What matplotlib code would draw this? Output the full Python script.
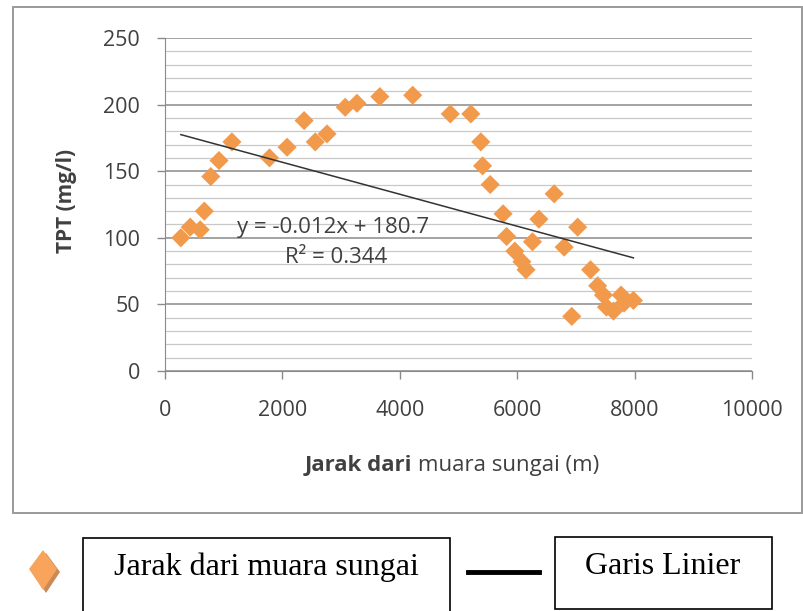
import matplotlib
matplotlib.use("Agg")
import matplotlib.pyplot as plt
from matplotlib.ticker import MultipleLocator
from matplotlib.patches import Rectangle, Polygon
from matplotlib.lines import Line2D

# TPT sampling points along the river
jarak = [270, 430, 600, 670, 780, 920, 1140, 1780, 2080, 2370, 2560, 2760,
         3070, 3270, 3660, 4220, 4860, 5210, 5380, 5410, 5540, 5760, 5820,
         5960, 6080, 6150, 6260, 6370, 6630, 6800, 6930, 7030, 7250, 7370,
         7470, 7520, 7640, 7770, 7820, 7980]
tpt = [100, 108, 106, 120, 146, 158, 172, 160, 168, 188, 172, 178,
       198, 201, 206, 207, 193, 193, 172, 154, 140, 118, 101,
       90, 82, 76, 97, 114, 133, 93, 41, 108, 76, 64,
       57, 48, 45, 57, 51, 53]

# linear trend as reported on the chart
slope = -0.012
intercept = 180.7
r_squared = 0.344

W, H = 804, 611
fig = plt.figure(figsize=(W / 100, H / 100), dpi=100)


def fx(px):
    return px / W


def fy(py):
    return 1 - py / H


ax = fig.add_axes([fx(165), fy(371), (752 - 165) / W, (371 - 38) / H])
ax.set_xlim(0, 10000)
ax.set_ylim(0, 250)
ax.xaxis.set_major_locator(MultipleLocator(2000))
ax.yaxis.set_major_locator(MultipleLocator(50))
ax.yaxis.set_minor_locator(MultipleLocator(10))
ax.grid(which="major", axis="y", color="#8a8a8a", lw=1.1)
ax.grid(which="minor", axis="y", color="#c8c8c8", lw=0.9)
ax.set_axisbelow(True)
for s in ["top", "right"]:
    ax.spines[s].set_visible(False)
ax.spines["left"].set_color("#8a8a8a")
ax.spines["bottom"].set_color("#8a8a8a")
ax.tick_params(which="major", length=6, width=1, color="#8a8a8a",
               labelsize=15.5, labelcolor="#404040")
ax.tick_params(axis="y", pad=12)
ax.tick_params(axis="x", pad=15)
ax.tick_params(which="minor", length=0)
for lab in ax.get_xticklabels() + ax.get_yticklabels():
    lab.set_fontfamily("Open Sans")

ax.scatter(jarak, tpt, marker="D", s=95, color="#f29a4c",
           edgecolors="none", zorder=3)

xs = [min(jarak), max(jarak)]
ax.plot(xs, [intercept + slope * x for x in xs], color="#333333", lw=1.1,
        zorder=4)

eq = "y = %.3fx + %.1f" % (slope, intercept)
ax.text(0.123, 0.43, eq, transform=ax.transAxes, fontsize=16,
        color="#404040", family="Open Sans", va="center")
ax.text(0.205, 0.34, "R² = %.3f" % r_squared, transform=ax.transAxes,
        fontsize=16, color="#404040", family="Open Sans", va="center")

# axis titles
fig.text(fx(67), fy(201), "TPT (mg/l)", rotation=90, ha="center",
         va="center", fontsize=15, fontweight="bold", color="#404040",
         family="Open Sans")
t1 = fig.text(fx(305), fy(466), "Jarak dari ", fontsize=16,
              fontweight="bold", color="#404040", family="Open Sans",
              va="center")
fig.canvas.draw()
bb = t1.get_window_extent()
fig.text(bb.x1 / W, fy(466), "muara sungai (m)", fontsize=16,
         color="#404040", family="Open Sans", va="center")

# chart frame
fig.add_artist(Rectangle((fx(13), fy(513)), (802 - 13) / W, (513 - 7) / H,
                         transform=fig.transFigure, fill=False,
                         edgecolor="#9a9a9a", lw=1.4))

# legend below the chart
shadow = Polygon([(fx(46), fy(553)), (fx(60), fy(572)), (fx(46), fy(593)),
                  (fx(32), fy(572))], closed=True, transform=fig.transFigure,
                 facecolor="#c98a55", edgecolor="none")
diamond = Polygon([(fx(43), fy(550)), (fx(57), fy(569)), (fx(43), fy(590)),
                   (fx(29), fy(569))], closed=True, transform=fig.transFigure,
                  facecolor="#f8a45c", edgecolor="none")
fig.add_artist(shadow)
fig.add_artist(diamond)

fig.add_artist(Rectangle((fx(83), fy(620)), (450 - 83) / W, (620 - 538) / H,
                         transform=fig.transFigure, fill=False,
                         edgecolor="black", lw=1.2))
fig.text(fx(266), fy(567), "Jarak dari muara sungai", ha="center",
         va="center", fontsize=23, family="Liberation Serif", color="black")

fig.add_artist(Line2D([fx(468), fx(539)], [fy(572), fy(572)],
                      transform=fig.transFigure, color="black", lw=3.5))

fig.add_artist(Rectangle((fx(555), fy(609)), (772 - 555) / W, (609 - 537) / H,
                         transform=fig.transFigure, fill=False,
                         edgecolor="black", lw=1.2))
fig.text(fx(663), fy(567), "Garis Linier", ha="center", va="center",
         fontsize=23, family="Liberation Serif", color="black")

fig.savefig("out.png", dpi=100)
